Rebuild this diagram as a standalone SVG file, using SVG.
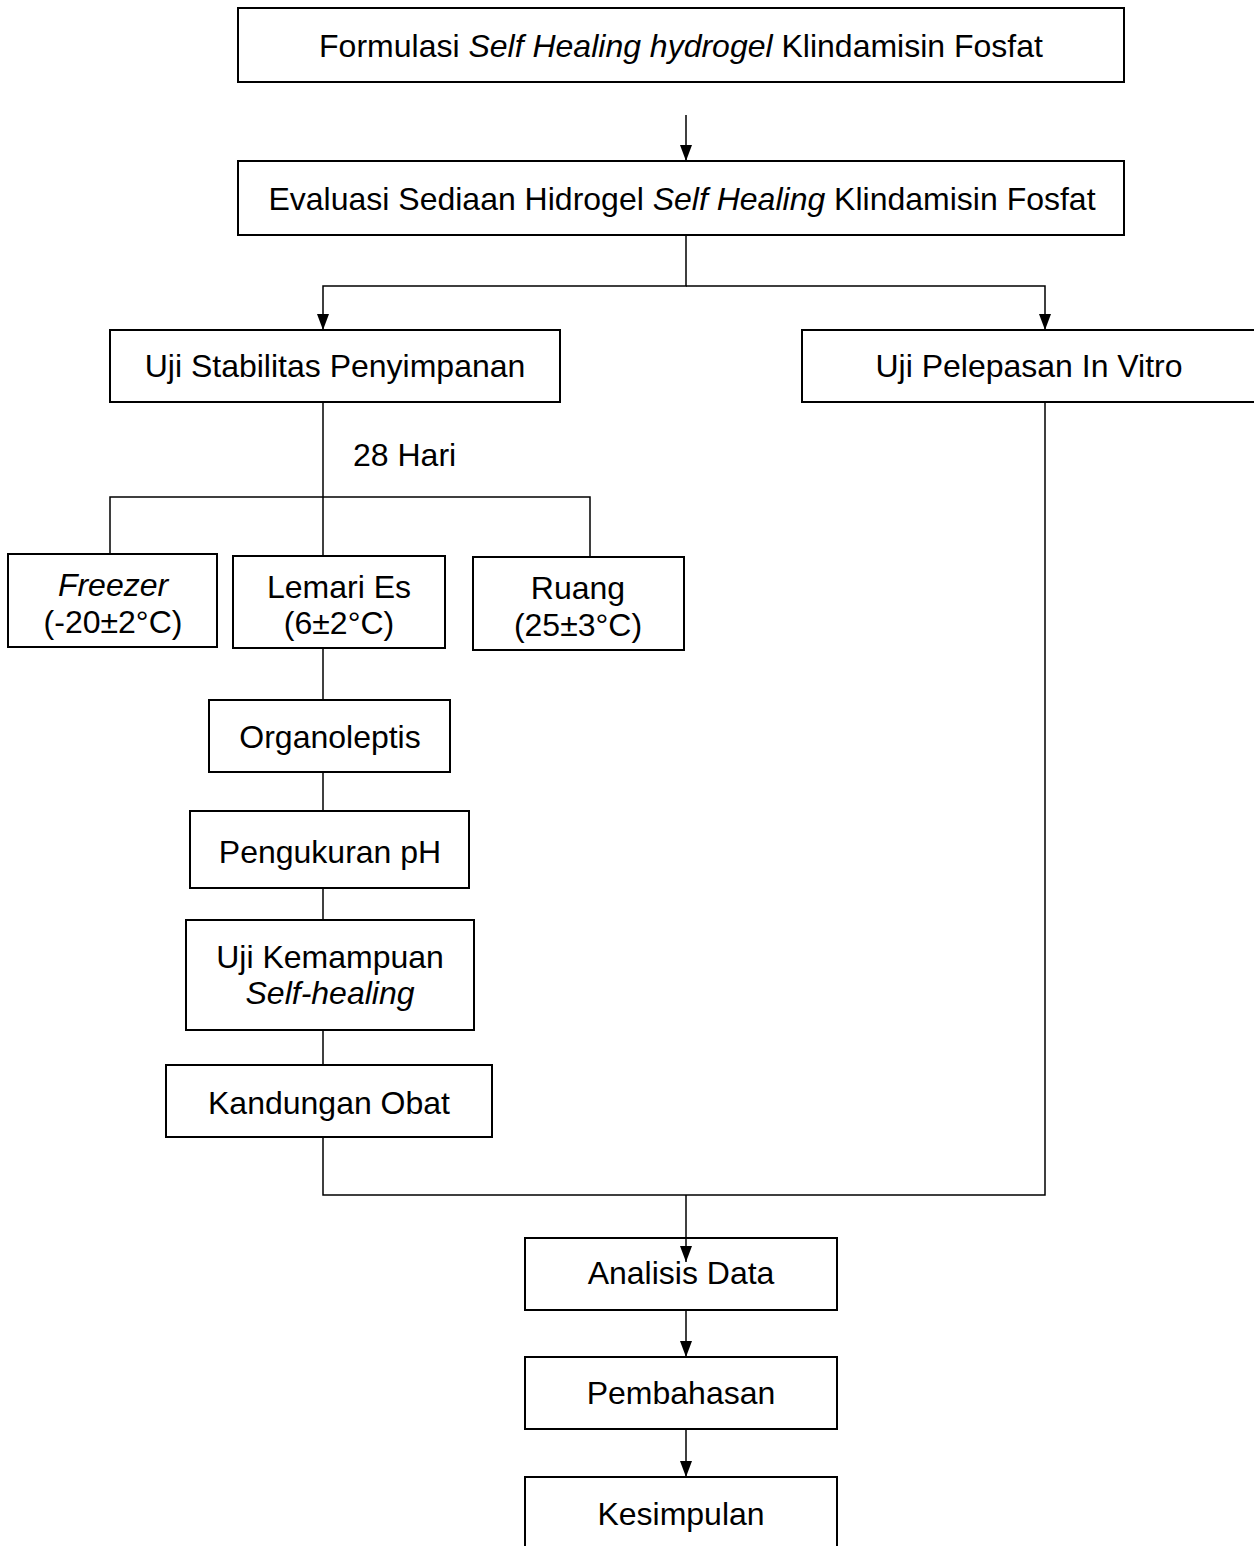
<svg xmlns="http://www.w3.org/2000/svg" width="1254" height="1546" viewBox="0 0 1254 1546">
<style>
.box{fill:#fff;stroke:#000;stroke-width:2}
.t{font-family:"Liberation Sans",Arial,sans-serif;font-size:32px;fill:#000;text-anchor:middle}
.i{font-style:italic}
.c{fill:none;stroke:#000;stroke-width:1.5}
</style>
<defs>
<marker id="ah2" viewBox="0 0 16 12" refX="16" refY="6" markerWidth="16" markerHeight="12" markerUnits="userSpaceOnUse" orient="auto">
<path d="M0,0 L16,6 L0,12 Z" fill="#000"/>
</marker>
</defs>
<rect width="1254" height="1546" fill="#fff"/>
<g id="n1"><rect class="box" x="238" y="8" width="886" height="74"/>
<text class="t" x="681" y="57">Formulasi <tspan class="i">Self Healing hydrogel</tspan> Klindamisin Fosfat</text></g>
<g id="n2"><rect class="box" x="238" y="161" width="886" height="74"/>
<text class="t" x="682" y="210">Evaluasi Sediaan Hidrogel <tspan class="i">Self Healing</tspan> Klindamisin Fosfat</text></g>
<g id="n3"><rect class="box" x="110" y="330" width="450" height="72"/>
<text class="t" x="335" y="377">Uji Stabilitas Penyimpanan</text></g>
<g id="n4"><rect class="box" x="802" y="330" width="460" height="72"/>
<text class="t" x="1029" y="377">Uji Pelepasan In Vitro</text></g>
<g id="lbl28"><text class="t" x="353" y="466" style="text-anchor:start">28 Hari</text></g>
<g id="n5"><rect class="box" x="8" y="554" width="209" height="93"/>
<text class="t" x="113" y="596"><tspan class="i">Freezer</tspan></text>
<text class="t" x="113" y="633">(-20±2°C)</text></g>
<g id="n6"><rect class="box" x="233" y="556" width="212" height="92"/>
<text class="t" x="339" y="598">Lemari Es</text>
<text class="t" x="339" y="634">(6±2°C)</text></g>
<g id="n7"><rect class="box" x="473" y="557" width="211" height="93"/>
<text class="t" x="578" y="599">Ruang</text>
<text class="t" x="578" y="636">(25±3°C)</text></g>
<g id="n8"><rect class="box" x="209" y="700" width="241" height="72"/>
<text class="t" x="330" y="748">Organoleptis</text></g>
<g id="n9"><rect class="box" x="190" y="811" width="279" height="77"/>
<text class="t" x="330" y="863">Pengukuran pH</text></g>
<g id="n10"><rect class="box" x="186" y="920" width="288" height="110"/>
<text class="t" x="330" y="968">Uji Kemampuan</text>
<text class="t i" x="330" y="1004">Self-healing</text></g>
<g id="n11"><rect class="box" x="166" y="1065" width="326" height="72"/>
<text class="t" x="329" y="1114">Kandungan Obat</text></g>
<g id="n12"><rect class="box" x="525" y="1238" width="312" height="72"/>
<text class="t" x="681" y="1284">Analisis Data</text></g>
<g id="n13"><rect class="box" x="525" y="1357" width="312" height="72"/>
<text class="t" x="681" y="1404">Pembahasan</text></g>
<g id="n14"><rect class="box" x="525" y="1477" width="312" height="80"/>
<text class="t" x="681" y="1525">Kesimpulan</text></g>
<g id="connectors">
<line class="c" x1="686" y1="115" x2="686" y2="161" marker-end="url(#ah2)"/>
<polyline class="c" points="686,235 686,286 323,286 323,330" marker-end="url(#ah2)"/>
<polyline class="c" points="686,286 1045,286 1045,330" marker-end="url(#ah2)"/>
<line class="c" x1="323" y1="402" x2="323" y2="556"/>
<polyline class="c" points="110,554 110,497 590,497 590,557"/>
<line class="c" x1="323" y1="648" x2="323" y2="700"/>
<line class="c" x1="323" y1="772" x2="323" y2="811"/>
<line class="c" x1="323" y1="888" x2="323" y2="920"/>
<line class="c" x1="323" y1="1030" x2="323" y2="1065"/>
<polyline class="c" points="323,1137 323,1195 1045,1195 1045,402"/>
<line class="c" x1="686" y1="1195" x2="686" y2="1262" marker-end="url(#ah2)"/>
<line class="c" x1="686" y1="1310" x2="686" y2="1357" marker-end="url(#ah2)"/>
<line class="c" x1="686" y1="1429" x2="686" y2="1477" marker-end="url(#ah2)"/>
</g>
</svg>
